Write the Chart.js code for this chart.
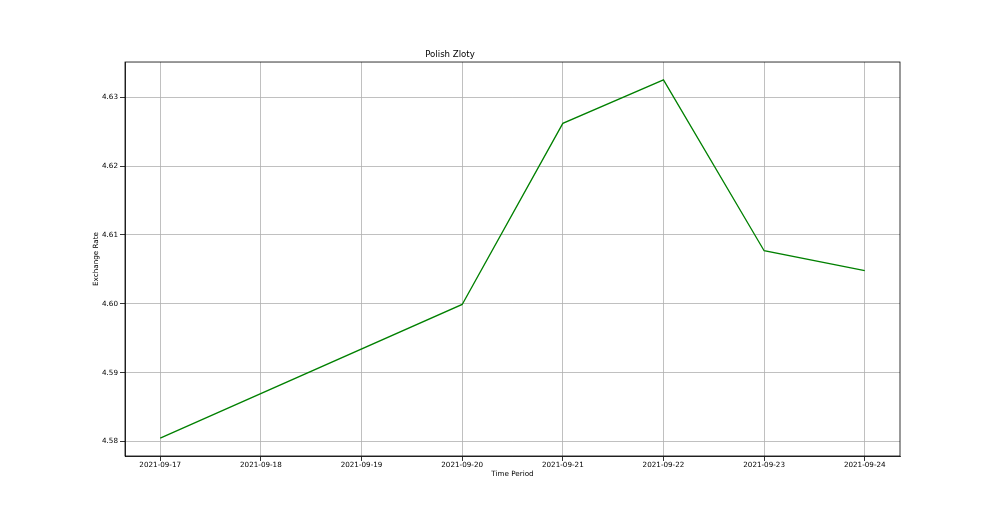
<!DOCTYPE html>
<html>
<head>
<meta charset="utf-8">
<script src="https://cdn.jsdelivr.net/npm/chart.js@4/dist/chart.umd.min.js"></script>
<style>
  html, body { margin: 0; padding: 0; background: #fff; }
  canvas { display: block; }
</style>
</head>
<body>
<canvas id="c" width="1000" height="512"></canvas>
<script>
// ---- data ----
const dateLabels = ['2021-09-17','2021-09-18','2021-09-19','2021-09-20','2021-09-21','2021-09-22','2021-09-23','2021-09-24'];
const obsDates = ['2021-09-17','2021-09-20','2021-09-21','2021-09-22','2021-09-23','2021-09-24'];
const rates = [4.5805, 4.5999, 4.6262, 4.6325, 4.6077, 4.6048];
const yTickValues = [4.58, 4.59, 4.60, 4.61, 4.62, 4.63];
const chartTitle = 'Polish Zloty';
const xTitle = 'Time Period';
const yTitle = 'Exchange Rate';

const points = obsDates.map((d, i) => ({ x: dateLabels.indexOf(d), y: rates[i] }));
const xSpan = dateLabels.length - 1;
const yMinD = Math.min(...rates), yMaxD = Math.max(...rates);
const yPad = (yMaxD - yMinD) * 0.05;
const xPad = xSpan * 0.05;

const FONT = 'DejaVu Sans';
const tickFont = { family: FONT, size: 7.2 };

const framePlugin = {
  id: 'frame',
  afterDraw(chart) {
    const { ctx, chartArea: a } = chart;
    ctx.save();
    ctx.strokeStyle = '#000';
    ctx.lineWidth = 0.8;
    ctx.strokeRect(a.left, a.top, a.right - a.left, a.bottom - a.top);
    ctx.restore();
  }
};

new Chart(document.getElementById('c'), {
  type: 'line',
  data: {
    datasets: [{
      data: points,
      borderColor: '#008000',
      borderWidth: 1.3,
      pointRadius: 0,
      tension: 0,
      fill: false
    }]
  },
  options: {
    responsive: false,
    animation: false,
    devicePixelRatio: 1,
    layout: { padding: { left: 0, right: 100, top: 0, bottom: 0 } },
    plugins: {
      legend: { display: false },
      tooltip: { enabled: false },
      title: {
        display: true,
        text: chartTitle,
        color: '#000',
        font: { family: FONT, size: 8.6, weight: 'normal' },
        padding: { top: 49.8, bottom: 1.9 }
      }
    },
    scales: {
      x: {
        type: 'linear',
        min: -xPad,
        max: xSpan + xPad,
        afterBuildTicks(scale) {
          scale.ticks = dateLabels.map((_, i) => ({ value: i }));
        },
        afterFit(scale) { scale.height = 56; },
        ticks: {
          color: '#000',
          font: tickFont,
          padding: 0,
          maxRotation: 0,
          autoSkip: false,
          callback: (v) => dateLabels[v]
        },
        grid: {
          color: '#b0b0b0',
          lineWidth: 0.8,
          drawTicks: true,
          tickLength: 5,
          tickColor: '#000',
          tickWidth: 0.8
        },
        border: { display: true, color: '#000', width: 0.8 },
        title: {
          display: true,
          text: xTitle,
          color: '#000',
          font: { family: FONT, size: 7.2 },
          padding: { top: 0, bottom: 33.7 }
        }
      },
      y: {
        type: 'linear',
        min: yMinD - yPad,
        max: yMaxD + yPad,
        afterBuildTicks(scale) {
          scale.ticks = yTickValues.map(v => ({ value: v }));
        },
        afterFit(scale) { scale.width = 125; },
        ticks: {
          color: '#000',
          font: tickFont,
          padding: 2,
          callback: (v) => v.toFixed(2)
        },
        grid: {
          color: '#b0b0b0',
          lineWidth: 0.8,
          drawTicks: true,
          tickLength: 5,
          tickColor: '#000',
          tickWidth: 0.8
        },
        border: { display: true, color: '#000', width: 0.8 },
        title: {
          display: true,
          text: yTitle,
          color: '#000',
          font: { family: FONT, size: 7.2 },
          padding: { top: 91.4, bottom: 0 }
        }
      }
    }
  },
  plugins: [framePlugin]
});
</script>
</body>
</html>
